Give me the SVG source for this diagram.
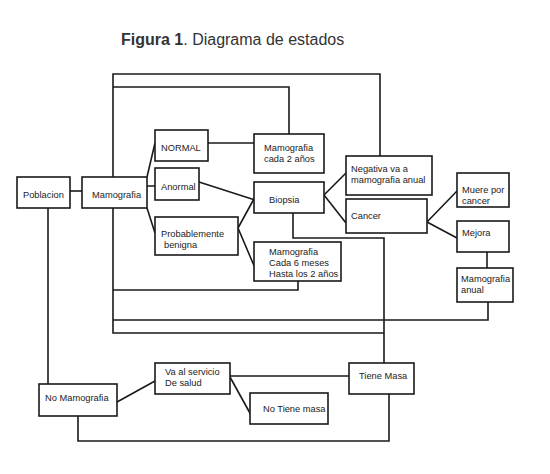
<svg xmlns="http://www.w3.org/2000/svg" width="550" height="474" viewBox="0 0 550 474">
<style>
.b{fill:#fff;stroke:#1a1a1a;stroke-width:1.6}
.c{fill:none;stroke:#1a1a1a;stroke-width:1.6}
text{font-family:"Liberation Sans",Arial,sans-serif;font-size:9.3px;fill:#222}
.t{font-size:16px;fill:#333}
</style>
<rect width="550" height="474" fill="#fff"/>
<text class="t" x="121" y="45"><tspan font-weight="bold">Figura 1</tspan>. Diagrama de estados</text>
<g id="connectors" class="c">
<path d="M70 191H82"/>
<path d="M147 177L155 143M147 186H155M147 208L155 233"/>
<path d="M208 143H254"/>
<path d="M199 182L255 200M238 228L255 197M238 228L255 268"/>
<path d="M324 195L346 173M324 195L346 223"/>
<path d="M427 222L457 191M427 222L457 238"/>
<path d="M487 252V268"/>
<path d="M113 177V74H380V156"/>
<path d="M113 87H289V134"/>
<path d="M113 208V333H384"/>
<path d="M113 290H298V281"/>
<path d="M113 320H488V302"/>
<path d="M293 213V238H384V363"/>
<path d="M48 208V384"/>
<path d="M117 402L155 381"/>
<path d="M230 376H349"/>
<path d="M230 377L251 415"/>
<path d="M78 416V441H389V394"/>
</g>
<g id="poblacion"><rect class="b" x="17" y="177" width="53" height="31"/><text x="23" y="198">Poblacion</text></g>
<g id="mamografia"><rect class="b" x="82" y="177" width="65" height="31"/><text x="92" y="198">Mamografia</text></g>
<g id="normal"><rect class="b" x="155" y="130" width="53" height="31"/><text x="161" y="151">NORMAL</text></g>
<g id="anormal"><rect class="b" x="155" y="168" width="44" height="32"/><text x="161" y="190">Anormal</text></g>
<g id="probablemente"><rect class="b" x="155" y="217" width="83" height="38"/><text x="161" y="237">Probablemente</text><text x="164" y="248">benigna</text></g>
<g id="mamo2anos"><rect class="b" x="254" y="134" width="70" height="39"/><text x="264" y="151">Mamografia</text><text x="264" y="162">cada 2 años</text></g>
<g id="biopsia"><rect class="b" x="254" y="182" width="70" height="31"/><text x="269" y="203">Biopsia</text></g>
<g id="mamo6meses"><rect class="b" x="254" y="242" width="87" height="39"/><text x="269" y="255">Mamografia</text><text x="269" y="266">Cada 6 meses</text><text x="269" y="277">Hasta los 2 años</text></g>
<g id="negativa"><rect class="b" x="346" y="156" width="86" height="39"/><text x="351" y="172">Negativa va a</text><text x="351" y="183">mamografia anual</text></g>
<g id="cancer"><rect class="b" x="346" y="199" width="81" height="34"/><text x="351" y="219">Cancer</text></g>
<g id="muere"><rect class="b" x="457" y="173" width="52" height="34"/><text x="462" y="193">Muere por</text><text x="462" y="204">cancer</text></g>
<g id="mejora"><rect class="b" x="457" y="221" width="52" height="31"/><text x="462" y="236">Mejora</text></g>
<g id="mamoanual"><rect class="b" x="457" y="268" width="56" height="34"/><text x="461" y="282">Mamografia</text><text x="461" y="293">anual</text></g>
<g id="nomamografia"><rect class="b" x="39" y="384" width="78" height="32"/><text x="45" y="401">No Mamografia</text></g>
<g id="servicio"><rect class="b" x="155" y="363" width="75" height="31"/><text x="165" y="375">Va al servicio</text><text x="165" y="386">De salud</text></g>
<g id="notienemasa"><rect class="b" x="250" y="393" width="78" height="31"/><text x="263" y="412">No Tiene masa</text></g>
<g id="tienemasa"><rect class="b" x="349" y="363" width="65" height="31"/><text x="359" y="379">Tiene Masa</text></g>
</svg>
